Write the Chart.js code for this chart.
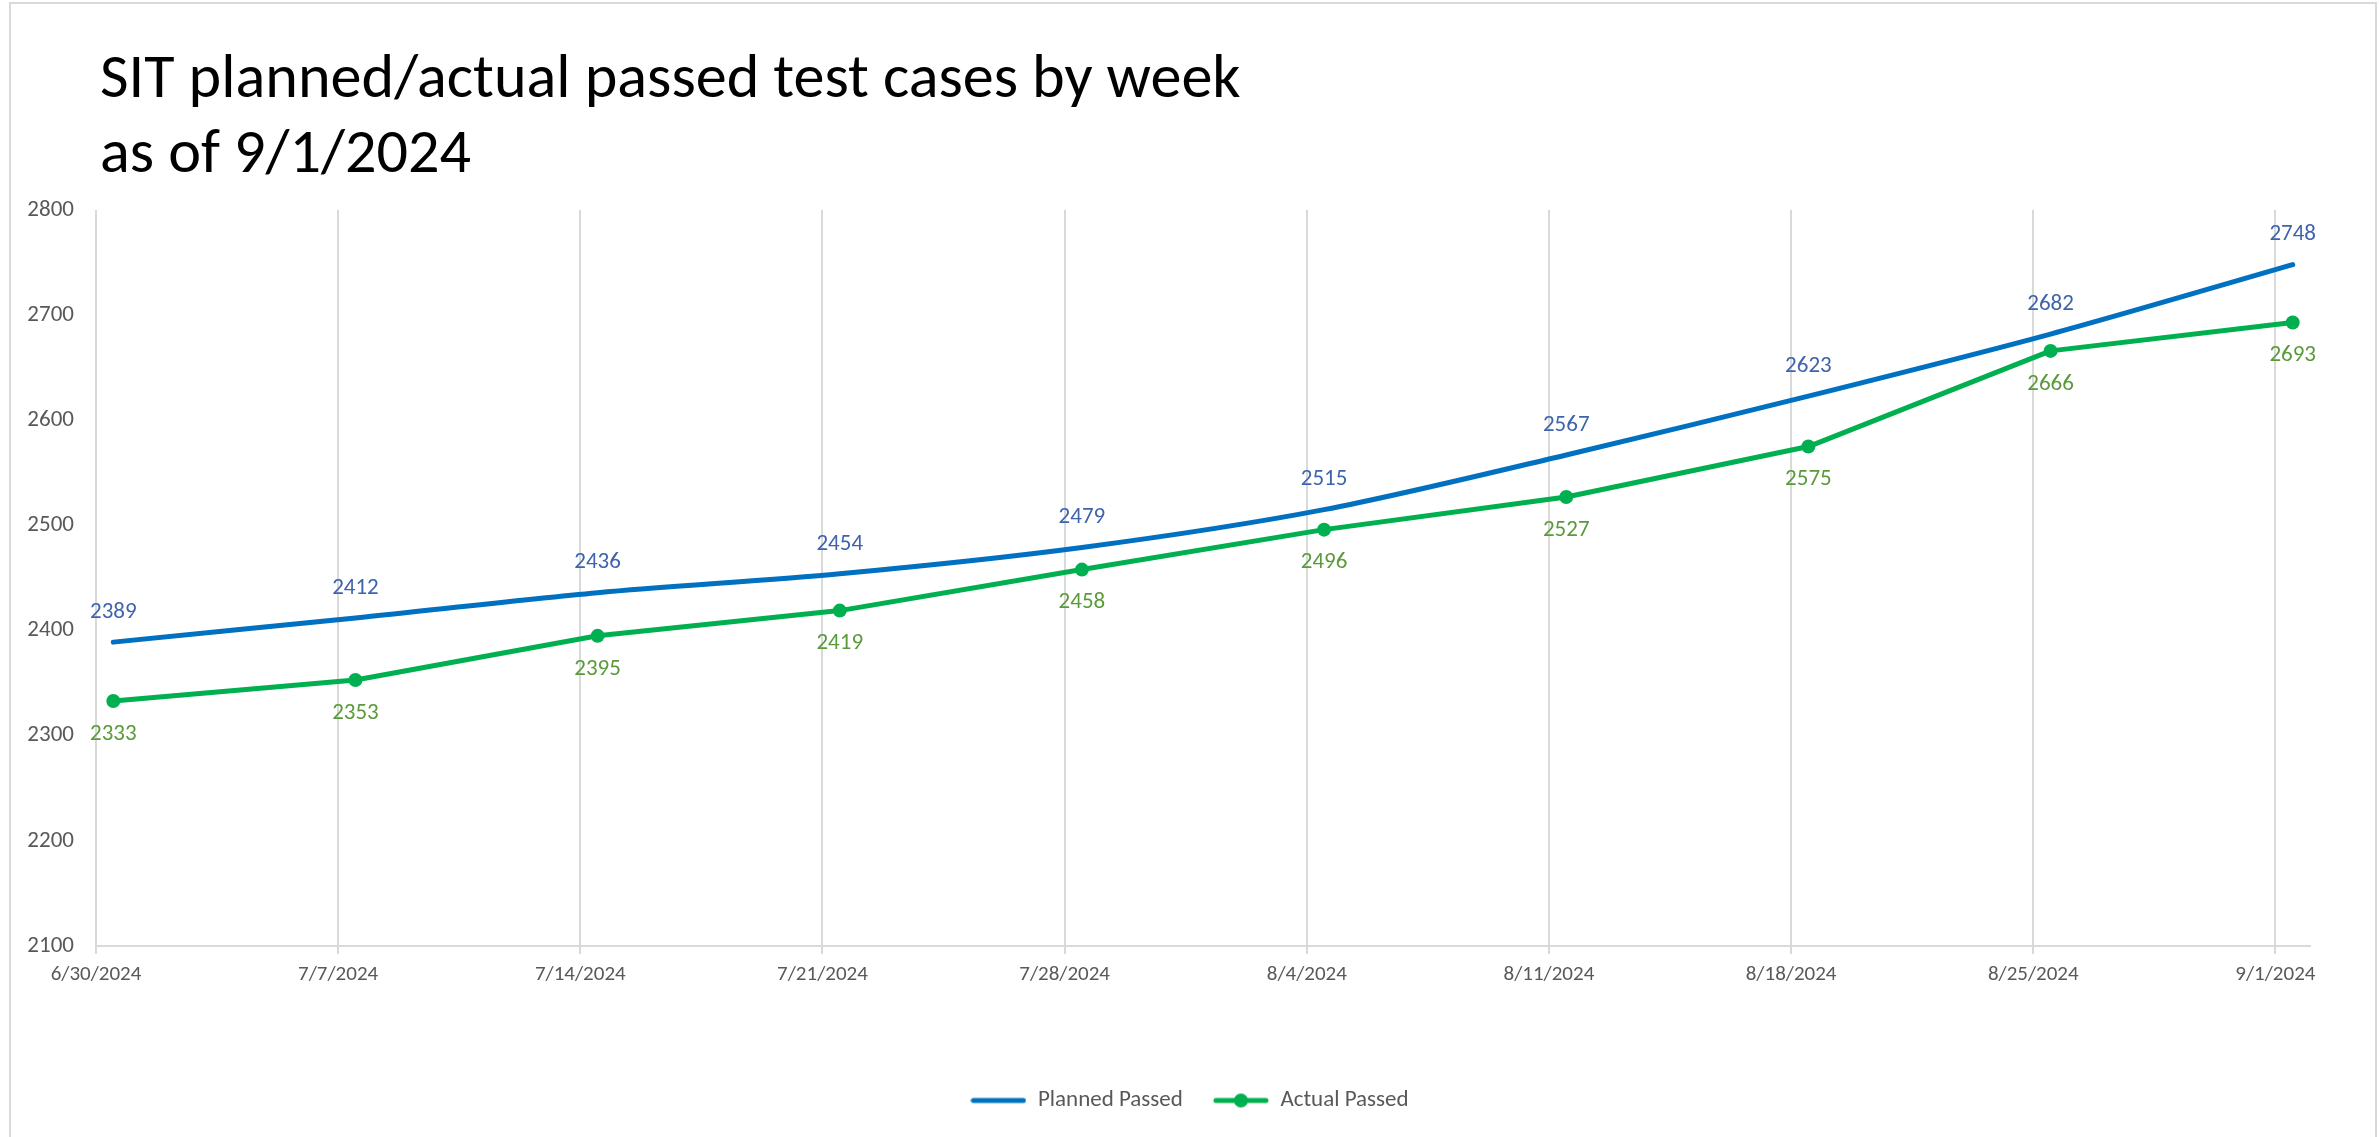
<!DOCTYPE html>
<html>
<head>
<meta charset="utf-8">
<script src="https://cdn.jsdelivr.net/npm/chart.js@4.4.1/dist/chart.umd.min.js"></script>
<style>
html,body{margin:0;padding:0;background:#fff;overflow:hidden;}
#wrap{position:absolute;left:0;top:0;width:2379px;height:1137px;}
#frame{position:absolute;left:9px;top:2px;width:2368px;height:1150px;border:2px solid #d9d9d9;box-sizing:border-box;pointer-events:none;}
canvas{display:block;}
</style>
</head>
<body>
<div id="wrap"><canvas id="c" width="2379" height="1137"></canvas><div id="frame"></div></div>
<script>
// ---- data ----
const titleLines = ['SIT planned/actual passed test cases by week', 'as of 9/1/2024'];
const weekLabels = ['6/30/2024','7/7/2024','7/14/2024','7/21/2024','7/28/2024','8/4/2024','8/11/2024','8/18/2024','8/25/2024','9/1/2024'];
const plannedPassed = [2389, 2412, 2436, 2454, 2479, 2515, 2567, 2623, 2682, 2748];
const actualPassed  = [2333, 2353, 2395, 2419, 2458, 2496, 2527, 2575, 2666, 2693];
const seriesNames = ['Planned Passed', 'Actual Passed'];
const yMin = 2100, yMax = 2800, yStep = 100;

// ---- derived ----
function parseDate(s){ const [m,d,y] = s.split('/').map(Number); return Date.UTC(y, m-1, d); }
const day0 = parseDate(weekLabels[0]);
const dayOffsets = weekLabels.map(s => Math.round((parseDate(s) - day0) / 86400000));

const FONT = 'Carlito, Lato, "Noto Sans", sans-serif';
const BLUE = '#0070C0', GREEN = '#00B050';
const GRID = '#d9d9d9', TXT = '#595959';

function legendIcon(color, withDot){
  const c = document.createElement('canvas');
  c.width = 56; c.height = 16;
  const g = c.getContext('2d');
  g.strokeStyle = color; g.lineWidth = 5; g.lineCap = 'round';
  g.beginPath(); g.moveTo(3, 8); g.lineTo(53, 8); g.stroke();
  if (withDot){ g.fillStyle = color; g.beginPath(); g.arc(28, 8, 7, 0, Math.PI*2); g.fill(); }
  return c;
}
const legendIcons = [legendIcon(BLUE, false), legendIcon(GREEN, true)];

const titlePlugin = {
  id: 'titleText',
  beforeDraw(chart){
    const ctx = chart.ctx;
    ctx.save();
    let size = 60;
    ctx.font = size + 'px ' + FONT;
    const w = ctx.measureText(titleLines[0]).width;
    size = size * 1141 / w;
    ctx.font = size + 'px ' + FONT;
    ctx.fillStyle = '#000';
    ctx.textAlign = 'left';
    ctx.textBaseline = 'alphabetic';
    ctx.fillText(titleLines[0], 100, 97);
    ctx.fillText(titleLines[1], 100, 172);
    ctx.restore();
  }
};

const valueLabels = {
  id: 'valueLabels',
  afterDatasetsDraw(chart){
    const ctx = chart.ctx;
    chart.data.datasets.forEach((ds, di) => {
      const meta = chart.getDatasetMeta(di);
      ctx.save();
      ctx.font = '23px ' + FONT;
      ctx.fillStyle = ds.labelColor;
      ctx.textAlign = 'center';
      ctx.textBaseline = 'middle';
      meta.data.forEach((el, i) => {
        ctx.fillText(String(ds.data[i].y), el.x, el.y + ds.labelOffset);
      });
      ctx.restore();
    });
  }
};

const RIGHT_GAP = 69;
const PAD_BOTTOM = 15;
const AREA_BOTTOM = 946;

new Chart(document.getElementById('c'), {
  type: 'line',
  data: {
    datasets: [
      {
        label: seriesNames[0],
        data: plannedPassed.map((v, i) => ({x: dayOffsets[i], y: v})),
        borderColor: BLUE, backgroundColor: BLUE,
        borderWidth: 5, borderCapStyle: 'round', borderJoinStyle: 'round',
        pointRadius: 0, pointHoverRadius: 0, tension: 0.3,
        labelColor: '#3F63AD', labelOffset: -30
      },
      {
        label: seriesNames[1],
        data: actualPassed.map((v, i) => ({x: dayOffsets[i], y: v})),
        borderColor: GREEN, backgroundColor: GREEN,
        borderWidth: 5, borderCapStyle: 'round', borderJoinStyle: 'round',
        pointRadius: 7, pointHoverRadius: 7, pointBorderWidth: 0,
        pointBackgroundColor: GREEN, tension: 0,
        labelColor: '#5A9A3B', labelOffset: 33
      }
    ]
  },
  options: {
    responsive: false,
    animation: false,
    devicePixelRatio: 1,
    layout: { padding: { left: 0, right: 0, top: 210, bottom: PAD_BOTTOM } },
    scales: {
      x: {
        type: 'linear',
        min: dayOffsets[0] - 0.5,
        max: dayOffsets[dayOffsets.length - 1] + 0.5,
        afterBuildTicks: s => { s.ticks = dayOffsets.map(d => ({ value: d - 0.5 })); },
        afterFit: s => {
          const lh = (s.chart.legend && s.chart.legend.height) || 63;
          s.height = (1137 - PAD_BOTTOM - lh) - AREA_BOTTOM;
        },
        ticks: {
          autoSkip: false, maxRotation: 0, minRotation: 0, padding: 8,
          color: TXT, font: { family: FONT, size: 21 },
          callback: (v, i) => weekLabels[i]
        },
        grid: { color: GRID, lineWidth: 2, tickLength: 8, drawTicks: true },
        border: { color: GRID, width: 2 }
      },
      y: {
        min: yMin, max: yMax,
        afterFit: s => { s.width = 96; },
        ticks: { stepSize: yStep, padding: 22, color: TXT, font: { family: FONT, size: 23 },
                 callback: v => String(v) },
        grid: { display: false, drawTicks: false },
        border: { display: false }
      },
      yRightSpace: {
        position: 'right', min: yMin, max: yMax,
        afterFit: s => { s.width = RIGHT_GAP; },
        ticks: { display: false },
        grid: { display: false, drawTicks: false },
        border: { display: false }
      }
    },
    plugins: {
      legend: {
        position: 'bottom', align: 'center',
        labels: {
          usePointStyle: true, pointStyleWidth: 56, boxHeight: 16, padding: 30,
          color: TXT, font: { family: FONT, size: 23 },
          generateLabels(chart){
            const items = Chart.defaults.plugins.legend.labels.generateLabels(chart);
            items.forEach((it, i) => { it.pointStyle = legendIcons[i]; it.fontColor = TXT; });
            return items;
          }
        }
      },
      title: { display: false },
      tooltip: { enabled: false }
    }
  },
  plugins: [titlePlugin, valueLabels]
});
</script>
</body>
</html>
